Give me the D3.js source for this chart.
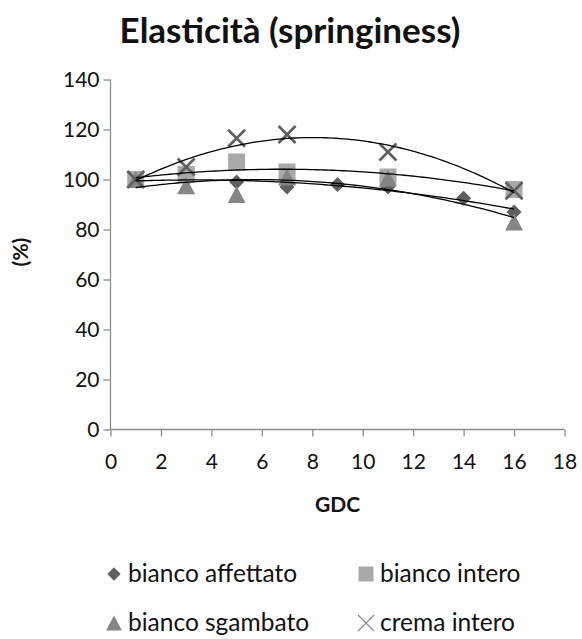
<!DOCTYPE html>
<html>
<head>
<meta charset="utf-8">
<script src="https://cdn.jsdelivr.net/npm/d3@7"></script>
<style>
  html, body { margin: 0; padding: 0; background: #fff; }
  svg { display: block; }
  text { font-family: Lato, "Open Sans", sans-serif; fill: #111; }
</style>
</head>
<body>
<svg id="chart" width="582" height="639"></svg>
<script>
// Elasticità (springiness) over GDC, four cheese samples
const affettatoX = [1, 3, 5, 7, 9, 11, 14, 16];
const affettatoY = [100, 100, 99, 97, 98, 97, 92.5, 87];
const interoX = [1, 3, 5, 7, 11, 16];
const interoY = [100, 102, 107, 103, 101, 96];
const sgambatoX = [1, 3, 5, 7, 11, 16];
const sgambatoY = [100, 97.5, 94, 101, 100.5, 83];
const cremaX = [1, 3, 5, 7, 11, 16];
const cremaY = [100, 105, 116.5, 118, 111, 95.5];

const xTicks = [0, 2, 4, 6, 8, 10, 12, 14, 16, 18];
const yTicks = [0, 20, 40, 60, 80, 100, 120, 140];

const series = [
  { name: "bianco affettato", xs: affettatoX, ys: affettatoY, shape: "diamond", color: "#5f5f5f" },
  { name: "bianco intero", xs: interoX, ys: interoY, shape: "square", color: "#a9a9a9" },
  { name: "bianco sgambato", xs: sgambatoX, ys: sgambatoY, shape: "triangle", color: "#858585" },
  { name: "crema intero", xs: cremaX, ys: cremaY, shape: "cross", color: "#5f5f5f" }
];

const svg = d3.select("#chart");
const x = d3.scaleLinear().domain([0, 18]).range([110.5, 564.5]);
const y = d3.scaleLinear().domain([0, 140]).range([429.5, 79.5]);

// Title
svg.append("text").attr("x", 290).attr("y", 43).attr("text-anchor", "middle")
  .style("font-size", "35px").style("font-weight", "bold").text("Elasticità (springiness)");

// Axes
const axisColor = "#8c8c8c";
const xAxis = svg.append("g").attr("transform", `translate(0,${y(0)})`)
  .call(d3.axisBottom(x).tickValues(xTicks).tickSize(7).tickPadding(18));
const yAxis = svg.append("g").attr("transform", `translate(${x(0)},0)`)
  .call(d3.axisLeft(y).tickValues(yTicks).tickSize(7).tickPadding(4));
[xAxis, yAxis].forEach(g => {
  g.select(".domain").attr("stroke", axisColor).attr("stroke-width", 1.3);
  g.selectAll(".tick line").attr("stroke", axisColor).attr("stroke-width", 1.3);
  g.selectAll(".tick text").style("font-size", "21px").style("font-family", "Lato, sans-serif").attr("fill", "#111");
});
xAxis.select(".domain").attr("d", `M${x(0)},0H${x(18)}`);
yAxis.select(".domain").attr("d", `M0,${y(0)}V${y(140)}`);

// Axis titles
svg.append("text").attr("x", x(9)).attr("y", 512).attr("text-anchor", "middle")
  .style("font-size", "21px").style("font-weight", "bold").text("GDC");
svg.append("text").attr("transform", `translate(28,${y(71)}) rotate(-90)`).attr("text-anchor", "middle")
  .style("font-size", "21px").style("font-weight", "bold").text("(%)");

// Least-squares quadratic fit for the trend lines
function quadFit(xs, ys) {
  const S = [0, 0, 0, 0, 0], T = [0, 0, 0];
  xs.forEach((xi, i) => {
    for (let k = 0; k < 5; k++) S[k] += Math.pow(xi, k);
    for (let k = 0; k < 3; k++) T[k] += ys[i] * Math.pow(xi, k);
  });
  const A = [[S[0], S[1], S[2], T[0]], [S[1], S[2], S[3], T[1]], [S[2], S[3], S[4], T[2]]];
  for (let c = 0; c < 3; c++) {
    for (let r = c + 1; r < 3; r++) {
      const f = A[r][c] / A[c][c];
      for (let k = c; k < 4; k++) A[r][k] -= f * A[c][k];
    }
  }
  const b = [0, 0, 0];
  for (let r = 2; r >= 0; r--) {
    let s = A[r][3];
    for (let k = r + 1; k < 3; k++) s -= A[r][k] * b[k];
    b[r] = s / A[r][r];
  }
  return v => b[0] + b[1] * v + b[2] * v * v;
}

function marker(sel, shape, color, size) {
  if (shape === "diamond") {
    sel.append("path").attr("d", d3.symbol(d3.symbolDiamond2, size * size * 0.5)()).attr("fill", color);
  } else if (shape === "square") {
    sel.append("rect").attr("x", -size / 2).attr("y", -size / 2).attr("width", size).attr("height", size).attr("fill", color);
  } else if (shape === "triangle") {
    const h = size, w = size * 1.05;
    sel.append("path").attr("d", `M0,${-h / 2}L${w / 2},${h / 2}L${-w / 2},${h / 2}Z`).attr("fill", color);
  } else {
    const r = size / 2;
    sel.append("path").attr("d", `M${-r},${-r}L${r},${r}M${-r},${r}L${r},${-r}`)
      .attr("stroke", color).attr("stroke-width", 2.6).attr("fill", "none");
  }
}

// Markers
series.forEach(s => {
  s.xs.forEach((xv, i) => {
    const g = svg.append("g").attr("transform", `translate(${x(xv)},${y(s.ys[i])})`);
    marker(g, s.shape, s.color, 17);
  });
});

// Trend lines
series.forEach(s => {
  const f = quadFit(s.xs, s.ys);
  const pts = d3.range(0, 101).map(i => {
    const v = 1 + 15 * i / 100;
    return [x(v), y(f(v))];
  });
  svg.append("path").attr("d", d3.line()(pts)).attr("fill", "none")
    .attr("stroke", "#000").attr("stroke-width", 1.3);
});

// Legend
const legend = [
  { s: series[0], mx: 114, ty: 574 },
  { s: series[1], mx: 366, ty: 574 },
  { s: series[2], mx: 114, ty: 623 },
  { s: series[3], mx: 366, ty: 623 }
];
legend.forEach(d => {
  const g = svg.append("g").attr("transform", `translate(${d.mx},${d.ty})`);
  if (d.s.shape === "cross") {
    const r = 8;
    g.append("path").attr("d", `M${-r},${-r}L${r},${r}M${-r},${r}L${r},${-r}`)
      .attr("stroke", "#8a8a8a").attr("stroke-width", 1.2).attr("fill", "none");
  } else {
    marker(g, d.s.shape, d.s.color, 15);
  }
  svg.append("text").attr("x", d.mx + 14).attr("y", d.ty + 8).style("font-size", "24.5px").text(d.s.name);
});
</script>
</body>
</html>
